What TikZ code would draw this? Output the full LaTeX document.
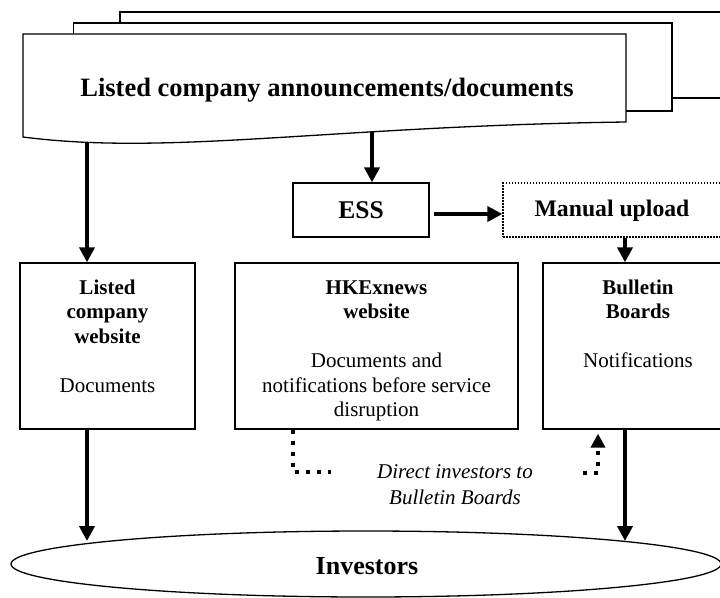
\documentclass[tikz,border=0pt]{standalone}
\usepackage{fontspec}
\setmainfont{Liberation Serif}
\usetikzlibrary{arrows.meta,calc,shapes.geometric}
\begin{document}
\begin{tikzpicture}[x=1pt,y=-1pt,
  thinline/.style={line width=1.3pt},
  box/.style={draw, line width=1.3pt, inner sep=0pt},
  boxtext/.style={anchor=north, inner sep=0pt, align=center, font=\fontsize{21}{24.5}\selectfont},
  bigarrow/.style={line width=4pt, -{Triangle[length=15pt,width=15pt]}},
  dotline/.style={line width=4pt, dash pattern=on 4pt off 7pt},
]
\clip (0,0) rectangle (720,597);
% stacked sheets
\draw[thinline] (120,23) -- (120,12) -- (760,12) -- (760,98) -- (672,98);
\draw[thinline] (73.5,34) -- (73.5,23) -- (672,23) -- (672,111) -- (626,111);
\draw[thinline, fill=white] (23,137) -- (23,34) -- (626,34) -- (626,122)
   .. controls (330,126) and (170,156) .. (23,137) -- cycle;
\node[font=\fontsize{26.5}{30}\selectfont\bfseries] (doc) at (327,90) {Listed company announcements/documents};
\coordinate (docS) at (372,132);
\coordinate (docL) at (87,143);

% boxes
\node[box, minimum width=136pt, minimum height=54pt, font=\fontsize{25.5}{30}\selectfont\bfseries] (ess) at (361,210) {ESS};
\node[box, dash pattern=on 1.5pt off 1.5pt, minimum width=218pt, minimum height=54pt] (man) at (612,210) {};
\node[font=\fontsize{23.7}{28}\selectfont\bfseries] (mantext) at (612,211) {Manual upload};

\node[box, minimum width=175pt, minimum height=166pt] (lcw) at (107.5,346) {};
\node[box, minimum width=283pt, minimum height=166pt] (hkex) at (376.5,346) {};
\node[box, minimum width=190pt, minimum height=166pt] (bb) at (638,346) {};

\node[boxtext] (lcwt) at (107.5,279) {\rule{0pt}{15pt}\textbf{Listed}\\\textbf{company}\\\textbf{website}\\[24.5pt]Documents};
\node[boxtext] (hkext) at (376.5,279) {\rule{0pt}{15pt}\textbf{HKExnews}\\\textbf{website}\\[24.5pt]Documents and\\notifications before service\\disruption};
\node[boxtext] (bbt) at (638,279) {\rule{0pt}{15pt}\textbf{Bulletin}\\\textbf{Boards}\\[24.5pt]Notifications};

% investors
\node[draw, ellipse, line width=1.3pt, inner sep=0pt, minimum width=710pt, minimum height=66pt] (inv) at (366,564) {};
\node[font=\fontsize{26}{30}\selectfont\bfseries] (invt) at (367,566) {Investors};

\node[align=center, font=\fontsize{21}{26}\selectfont\itshape] (lbl) at (455,485) {Direct investors to\\Bulletin Boards};

% connectors
\coordinate (invL) at (87,541);
\coordinate (invR) at (625,541);
\draw[bigarrow] (docS) -- (docS |- ess.north);
\draw[bigarrow] (docL) -- (docL |- lcw.north);
\draw[bigarrow] ($(ess.east)+(4,4)$) -- ($(man.west)+(0,4)$);
\draw[bigarrow] ([xshift=13pt]man.south) -- ([xshift=-13pt]bb.north);
\draw[bigarrow] (lcw.south -| invL) -- (invL);
\draw[bigarrow] (bb.south -| invR) -- (invR);

\coordinate (dl1) at (293,472);
\coordinate (dl2) at (331,472);
\coordinate (dr1) at (583,473);
\coordinate (dr2) at (598,473);
\draw[dotline] (hkex.south -| dl1) -- (dl1) -- (dl2);
\draw[dotline, -{Triangle[length=14pt,width=14pt]}] (dr1) -- (dr2) -- ($(bb.south -| dr2)+(0,4)$);
\end{tikzpicture}
\end{document}
